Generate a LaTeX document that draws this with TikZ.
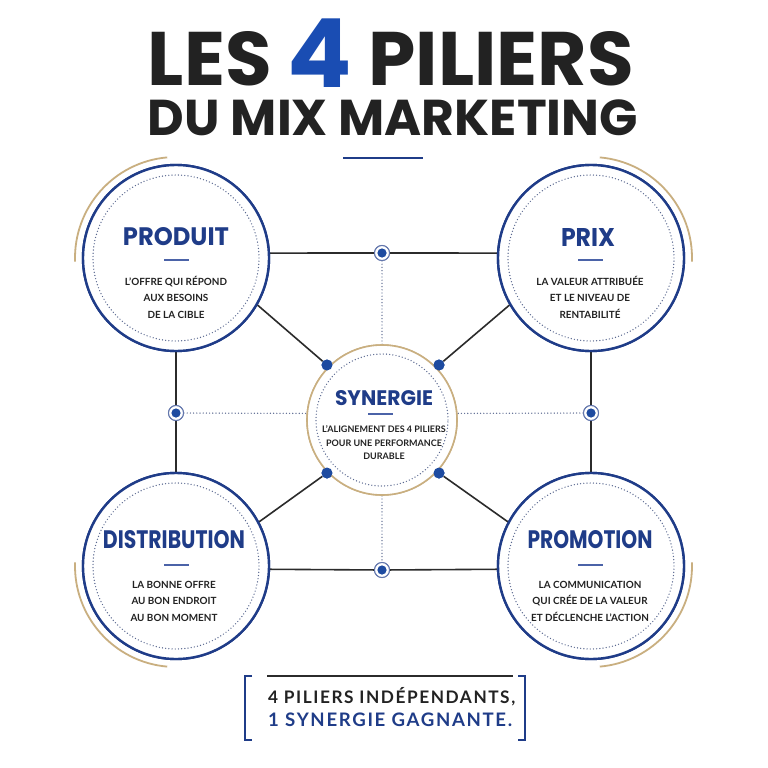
\documentclass[tikz,border=0pt]{standalone}
\usepackage{fontspec}
\usepackage{graphicx}
\setmainfont{Lato}
\newfontfamily\pop{Poppins}
\newfontfamily\latols{Lato}[LetterSpace=9]
\definecolor{navy}{HTML}{1F3C88}
\definecolor{brightblue}{HTML}{1A4DB3}
\definecolor{gold}{HTML}{C9AF80}
\definecolor{linec}{HTML}{2B2B2B}
\definecolor{dotc}{HTML}{5A6890}
\definecolor{dotblue}{HTML}{1E4BA0}
\definecolor{rulec}{HTML}{4B63A8}
\definecolor{textc}{HTML}{222222}
\tikzset{
  pillar/.style={circle, draw=navy, line width=2.4pt, fill=white, minimum size=186pt, inner sep=0pt},
  synbox/.style={circle, draw=gold, line width=1.6pt, fill=white, minimum size=150pt, inner sep=0pt},
  innerdot/.style={draw=dotc, line width=1.4pt, dash pattern=on 0pt off 3.2pt, line cap=round},
  goldarc/.style={draw=gold, line width=1.8pt},
  link/.style={draw=linec, line width=1.6pt},
  dotlink/.style={draw=dotc, line width=1.4pt, dash pattern=on 0pt off 3.2pt, line cap=round},
  hub/.style={circle, draw=navy!70, line width=1pt, fill=white, minimum size=15pt, inner sep=0pt,
    path picture={\fill[dotblue] (path picture bounding box.center) circle (4.6pt);}},
  syndot/.style={circle, fill=dotblue, minimum size=11pt, inner sep=0pt},
  ptitle/.style={inner sep=0pt, text=navy, font=\pop\bfseries},
  body/.style={align=center, inner sep=0pt, text=textc, font=\bfseries\fontsize{9.9}{16.5}\selectfont},
  sbody/.style={align=center, inner sep=0pt, text=textc, font=\bfseries\fontsize{9}{13.5}\selectfont},
  smallrule/.style={draw=rulec, line width=1.5pt},
  bracket/.style={draw=navy, line width=1.6pt},
}
\begin{document}
\begin{tikzpicture}[x=1pt,y=-1pt]
\useasboundingbox[fill=white] (0,0) rectangle (768,768);

% ---------- title ----------
\node[inner sep=0pt, anchor=base] (t1) at (391,85)
  {\resizebox{486pt}{!}{\pop\bfseries\fontsize{70}{70}\selectfont\color{textc}LES {\color{brightblue}\fontsize{88}{88}\selectfont\raisebox{-2pt}{4}} PILIERS}};
\node[inner sep=0pt, anchor=base] (t2) at (393,135)
  {\resizebox{490pt}{!}{\pop\bfseries\fontsize{70}{70}\selectfont\color{textc}DU MIX MARKETING}};
\coordinate (u1) at (343,158);
\coordinate (u2) at (423,158);
\draw[draw=navy, line width=2.5pt] (u1) -- (u2);

% ---------- nodes ----------
\node[pillar] (P) at (176,258) {};
\node[pillar] (X) at (591,258) {};
\node[pillar] (D) at (176,566) {};
\node[pillar] (M) at (591,566) {};
\node[synbox] (S) at (382,420) {};

\node[hub] (nT) at (382,253) {};
\node[hub] (nL) at (176,413) {};
\node[hub] (nR) at (591,413) {};
\node[hub] (nB) at (382,570) {};

\node[syndot] (d1) at (327,365) {};
\node[syndot] (d2) at (439,365) {};
\node[syndot] (d3) at (327,473) {};
\node[syndot] (d4) at (439,473) {};

% ---------- connectors ----------
\draw[link] (P.3) -- (nT) -- (X.177);
\draw[link] (D.-2.5) -- (nB) -- (M.182.5);
\draw[link] (P.south) -- (nL) -- (D.north);
\draw[link] (X.south) -- (nR) -- (M.north);
\draw[link] (P.-30) -- (d1);
\draw[link] (X.210) -- (d2);
\draw[link] (D.28) -- (d3);
\draw[link] (M.152) -- (d4);
\draw[dotlink] (nT) -- (S.north);
\draw[dotlink] (S.south) -- (nB);
\draw[dotlink] (nL) -- (S.175);
\draw[dotlink] (nR) -- (S.5);

% redraw circles on top of lines
\node[pillar] (P2) at (P.center) {};
\node[pillar] (X2) at (X.center) {};
\node[pillar] (D2) at (D.center) {};
\node[pillar] (M2) at (M.center) {};
\node[synbox] (S2) at (S.center) {};
\node[hub] (nT2) at (nT.center) {};
\node[hub] (nL2) at (nL.center) {};
\node[hub] (nR2) at (nR.center) {};
\node[hub] (nB2) at (nB.center) {};
\node[syndot] (e1) at (d1.center) {};
\node[syndot] (e2) at (d2.center) {};
\node[syndot] (e3) at (d3.center) {};
\node[syndot] (e4) at (d4.center) {};

% inner dotted circles
\draw[innerdot] (P.center) circle[radius=83pt];
\draw[innerdot] (X.center) circle[radius=83pt];
\draw[innerdot] (D.center) circle[radius=83pt];
\draw[innerdot] (M.center) circle[radius=83pt];
\draw[innerdot] (S.center) circle[radius=66pt];

% gold arcs
\draw[goldarc] (P.center) ++(95:101pt) arc[start angle=95, end angle=182, radius=101pt];
\draw[goldarc] (X.center) ++(-2:101pt) arc[start angle=-2, end angle=85, radius=101pt];
\draw[goldarc] (D.center) ++(178:101pt) arc[start angle=178, end angle=265, radius=101pt];
\draw[goldarc] (M.center) ++(-85:101pt) arc[start angle=-85, end angle=2, radius=101pt];

% ---------- texts ----------
\node[ptitle] (tP) at (176,237) {\resizebox{106pt}{18pt}{PRODUIT}};
\node[ptitle] (tX) at (588,237) {\resizebox{54pt}{18pt}{PRIX}};
\node[ptitle] (tD) at (174,540) {\resizebox{142pt}{18pt}{DISTRIBUTION}};
\node[ptitle] (tM) at (590,540) {\resizebox{125pt}{18pt}{PROMOTION}};
\node[ptitle] (tS) at (384,398) {\resizebox{98pt}{15pt}{SYNERGIE}};

\draw[smallrule] (164,260) -- (189,260);
\draw[smallrule] (578,260) -- (603,260);
\draw[smallrule] (164,565) -- (189,565);
\draw[smallrule] (578,565) -- (603,565);
\draw[smallrule] (368,414) -- (393,414);

\node[body] (bP) at (176,297) {L’OFFRE QUI RÉPOND\\AUX BESOINS\\DE LA CIBLE};
\node[body] (bX) at (590,297) {LA VALEUR ATTRIBUÉE\\ET LE NIVEAU DE\\RENTABILITÉ};
\node[body] (bD) at (174,601) {LA BONNE OFFRE\\AU BON ENDROIT\\AU BON MOMENT};
\node[body] (bM) at (590,601) {LA COMMUNICATION\\QUI CRÉE DE LA VALEUR\\ET DÉCLENCHE L’ACTION};
\node[sbody] (bS) at (384,443) {L’ALIGNEMENT DES 4 PILIERS\\POUR UNE PERFORMANCE\\DURABLE};

% ---------- bottom box ----------
\coordinate (bl1) at (252,676); \coordinate (bl2) at (245,676);
\coordinate (bl3) at (245,740); \coordinate (bl4) at (252,740);
\coordinate (br1) at (518,676); \coordinate (br2) at (525,676);
\coordinate (br3) at (525,740); \coordinate (br4) at (518,740);
\coordinate (tl1) at (267,676); \coordinate (tl2) at (513,676);
\draw[bracket] (bl1) -- (bl2) -- (bl3) -- (bl4);
\draw[bracket] (br1) -- (br2) -- (br3) -- (br4);
\draw[draw=linec, line width=1.5pt] (tl1) -- (tl2);
\node[inner sep=0pt, anchor=base west, text=textc] (q1) at (268,703)
  {\resizebox{247pt}{!}{\latols\bfseries\fontsize{15}{15}\selectfont 4 PILIERS INDÉPENDANTS,}};
\node[inner sep=0pt, anchor=base west, text=navy] (q2) at (268,726)
  {\resizebox{244pt}{!}{\latols\bfseries\fontsize{15}{15}\selectfont 1 SYNERGIE GAGNANTE.}};
\end{tikzpicture}
\end{document}
